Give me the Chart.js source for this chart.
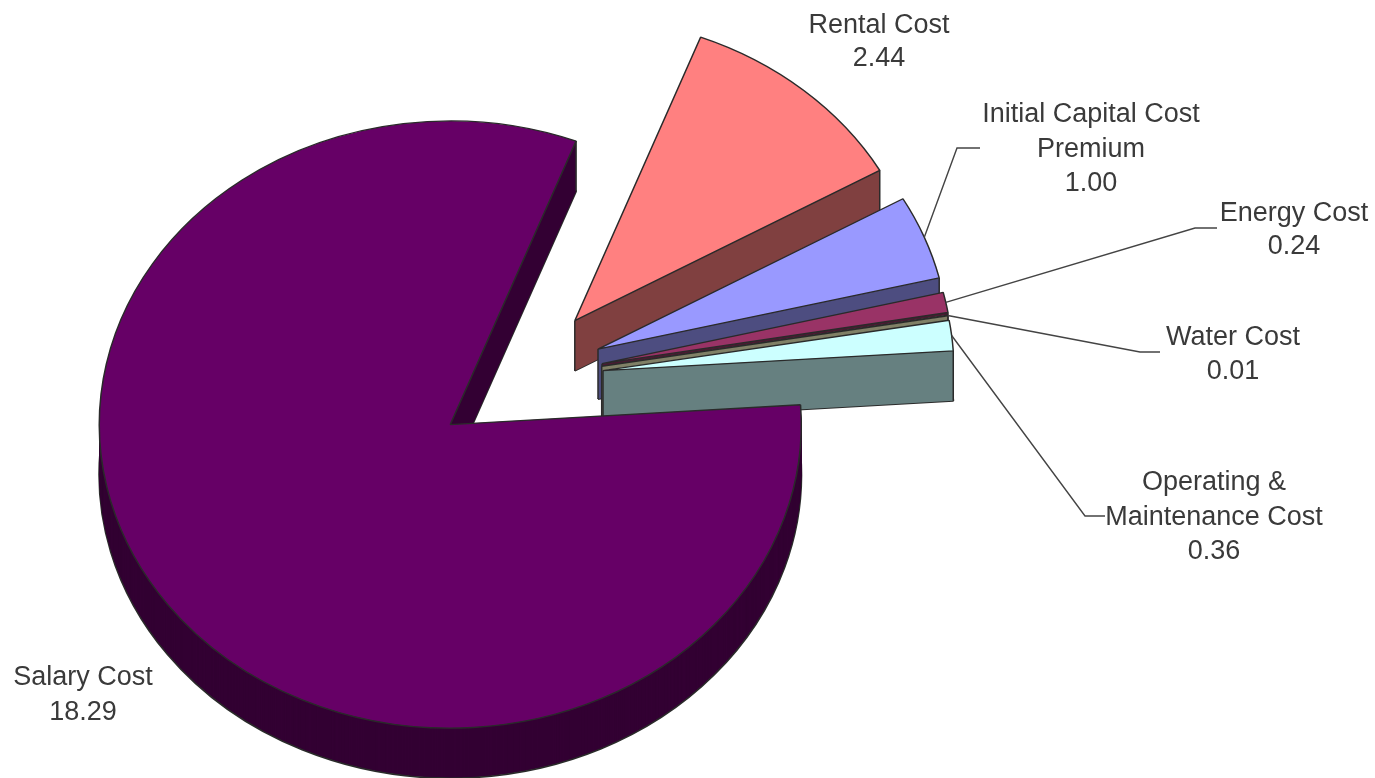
<!DOCTYPE html>
<html>
<head>
<meta charset="utf-8">
<title>Cost breakdown</title>
<script src="https://cdn.jsdelivr.net/npm/chart.js@4"></script>
<style>
  html, body { margin: 0; padding: 0; background: #fff; }
  canvas { display: block; }
</style>
</head>
<body>
<canvas id="costs" width="1375" height="778"></canvas>
<script>
// cost shares, in drawing order (clockwise from the rotation below)
var categories = [
    ["Rental Cost"],
    ["Initial Capital Cost", "Premium"],
    ["Energy Cost"],
    ["Water Cost"],
    ["Operating &", "Maintenance Cost"],
    ["Salary Cost"]
];
var costs = [2.44, 1.00, 0.24, 0.01, 0.36, 18.29];

var topColors = ['#ff8080', '#9999ff', '#993366', '#ffffcc', '#ccffff', '#660066'];
var wallColors = ['#804040', '#4d4d80', '#4d1a33', '#808066', '#668080', '#330033'];

// how far each slice is pulled out of the pie, px before the tilt
var explodeX = [65.8, 89, 93, 92.7, 94, -58.7];
var explodeY = [-76.7, -43.8, -27, -24, -19, 43.4];

// where the text goes: centre x, y of first line, line height
var labelSpots = [
    [879, 26, 33],
    [1091, 115, 34.5],
    [1294, 214, 33],
    [1233, 338, 34],
    [1214, 483, 34.5],
    [83, 678, 35]
];
// leader line elbows, null = no leader
var leaders = [
    null,
    [[957, 148], [980, 148]],
    [[1195, 228], [1217, 228]],
    [[1140, 352], [1160, 352]],
    [[1085, 516], [1105, 516]],
    null
];

var SQUASH = 0.865;
var DEPTH = 50;
var EDGE = '#2a2a2a';

// flat cut face along the slice's end edge, thin tips leave gaps without it
function cutFace(ctx, arc, color) {
    var p = arc.getProps(['x', 'y', 'endAngle', 'outerRadius']);
    var h = DEPTH / SQUASH;
    var cx = p.x + Math.cos(p.endAngle) * p.outerRadius;
    var cy = p.y + Math.sin(p.endAngle) * p.outerRadius;

    ctx.fillStyle = color;
    ctx.beginPath();
    ctx.moveTo(p.x, p.y);
    ctx.lineTo(cx, cy);
    ctx.lineTo(cx, cy + h);
    ctx.lineTo(p.x, p.y + h);
    ctx.closePath();
    ctx.fill();

    ctx.strokeStyle = EDGE;
    ctx.lineWidth = 1.5;
    ctx.beginPath();
    ctx.moveTo(p.x, p.y);
    ctx.lineTo(p.x, p.y + h);
    ctx.moveTo(cx, cy);
    ctx.lineTo(cx, cy + h);
    ctx.stroke();
}

// pie tilted back: squash everything, then stack wall layers under each top
var tiltedPie = {
    id: 'tiltedPie',
    beforeDatasetsDraw: function (chart) {
        var ctx = chart.ctx;
        var arcs = chart.getDatasetMeta(0).data;
        var cy = arcs[0].y;

        ctx.save();
        ctx.translate(0, cy);
        ctx.scale(1, SQUASH);
        ctx.translate(0, -cy);

        arcs.forEach(function (arc, i) {
            var topOptions = arc.options;

            // bottom layer first so its outline only shows outside the wall
            for (var d = DEPTH; d >= 1; d--) {
                var last = d === DEPTH;
                arc.options = Object.assign({}, topOptions, {
                    backgroundColor: wallColors[i],
                    borderColor: last ? EDGE : wallColors[i],
                    borderWidth: last ? 2 : 0
                });
                ctx.save();
                ctx.translate(explodeX[i], explodeY[i] + d / SQUASH);
                arc.draw(ctx);
                ctx.restore();
            }

            arc.options = topOptions;
            ctx.save();
            ctx.translate(explodeX[i], explodeY[i]);
            cutFace(ctx, arc, wallColors[i]);
            arc.draw(ctx);
            ctx.restore();
        });

        ctx.restore();
        return false;
    },
    afterDraw: function (chart) {
        var ctx = chart.ctx;
        var arcs = chart.getDatasetMeta(0).data;

        ctx.save();
        ctx.strokeStyle = '#444';
        ctx.lineWidth = 1.4;
        arcs.forEach(function (arc, i) {
            if (!leaders[i]) return;
            var p = arc.getProps(['startAngle', 'endAngle']);
            var mid = (p.startAngle + p.endAngle) / 2;
            var r = arc.outerRadius;
            ctx.beginPath();
            ctx.moveTo(arc.x + explodeX[i] + Math.cos(mid) * r,
                arc.y + (explodeY[i] + Math.sin(mid) * r) * SQUASH);
            leaders[i].forEach(function (pt) { ctx.lineTo(pt[0], pt[1]); });
            ctx.stroke();
        });

        ctx.font = '27px "Liberation Sans", Arial, sans-serif';
        ctx.fillStyle = '#3a3a3a';
        ctx.textAlign = 'center';
        ctx.textBaseline = 'middle';
        categories.forEach(function (lines, i) {
            var spot = labelSpots[i];
            lines.concat(costs[i].toFixed(2)).forEach(function (line, n) {
                ctx.fillText(line, spot[0], spot[1] + n * spot[2]);
            });
        });
        ctx.restore();
    }
};

var ctx = document.getElementById('costs').getContext('2d');
var costChart = new Chart(ctx, {
    type: 'pie',
    data: {
        labels: categories.map(function (c) { return c.join(' '); }),
        datasets: [{
            label: 'Cost',
            data: costs,
            backgroundColor: topColors,
            borderColor: EDGE,
            borderWidth: 1.5
        }]
    },
    options: {
        responsive: false,
        animation: false,
        events: [],
        rotation: 21,
        radius: 351,
        layout: { padding: { right: 357, bottom: 4 } },
        plugins: { legend: { display: false }, tooltip: { enabled: false } }
    },
    plugins: [tiltedPie]
});
</script>
</body>
</html>
